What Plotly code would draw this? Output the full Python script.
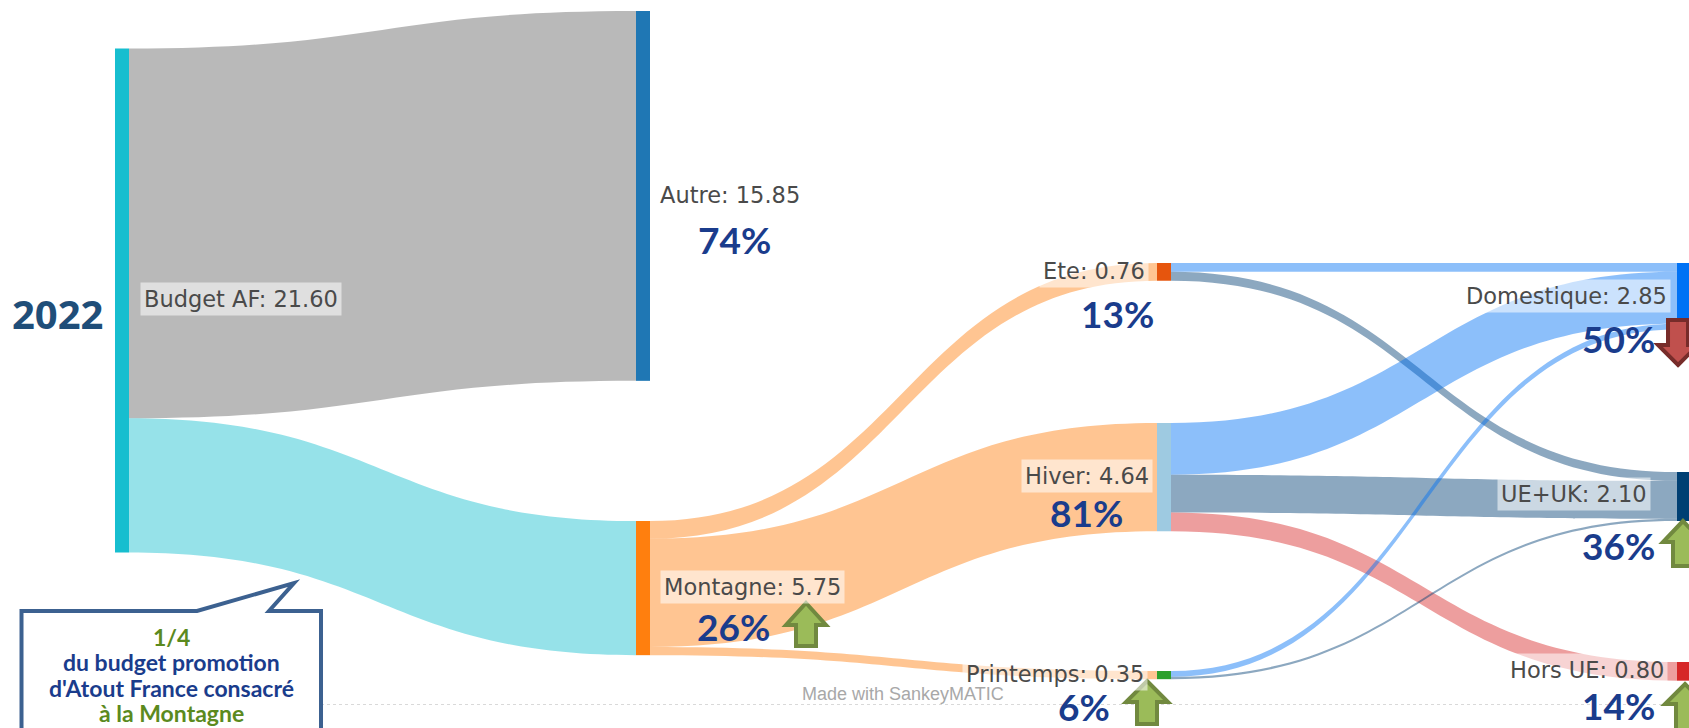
import plotly.graph_objects as go

# ---- data ----
node_names = ["Budget AF", "Autre", "Montagne", "Ete", "Hiver", "Printemps", "Domestique", "UE+UK", "Hors UE"]
node_values = [21.60, 15.85, 5.75, 0.76, 4.64, 0.35, 2.85, 2.10, 0.80]
node_colors = ["#17becf", "#1f77b4", "#ff7f0e", "#e6550d", "#9ecae1", "#2ca02c", "#0072f5", "#003f73", "#d62728"]
link_source = [0, 0, 2, 2, 2, 3, 3, 4, 4, 4, 5, 5]
link_target = [1, 2, 3, 4, 5, 6, 7, 6, 7, 8, 6, 7]
link_value = [15.85, 5.75, 0.76, 4.64, 0.35, 0.38, 0.38, 2.22, 1.62, 0.80, 0.25, 0.10]
link_colors = ["rgba(127,127,127,0.55)", "rgba(23,190,207,0.45)",
               "rgba(255,127,14,0.45)", "rgba(255,127,14,0.45)", "rgba(255,127,14,0.45)",
               "rgba(0,114,245,0.45)", "rgba(0,63,115,0.45)",
               "rgba(0,114,245,0.45)", "rgba(0,63,115,0.45)", "rgba(214,39,40,0.45)",
               "rgba(0,114,245,0.45)", "rgba(0,63,115,0.45)"]
node_left = [115, 636, 636, 1157, 1157, 1157, 1677, 1677, 1677]
node_top = [48.5, 11, 521, 263, 423, 671, 263, 472, 662]

node_labels = [("Budget AF: 21.60", 241, 299), ("Autre: 15.85", 730, 195), ("Montagne: 5.75", 752, 587),
               ("Ete: 0.76", 1094, 271), ("Hiver: 4.64", 1087, 476), ("Printemps: 0.35", 1055, 674),
               ("Domestique: 2.85", 1566, 296), ("UE+UK: 2.10", 1574, 494), ("Hors UE: 0.80", 1587, 670)]
percents = [("74%", 734, 240), ("13%", 1117, 313), ("81%", 1086, 512), ("26%", 733, 626), ("6%", 1084, 706),
            ("50%", 1618, 338), ("36%", 1618, 545), ("14%", 1618, 705)]
callout_lines = [("1/4", "#5b8a1e", 637), ("du budget promotion", "#1a3c8c", 662),
                 ("d'Atout France consacré", "#1a3c8c", 688), ("à la Montagne", "#5b8a1e", 713)]
# arrows: tip x, tip y, head half width, shaft half width, head base y, tail y
up_arrows = [(806, 603, 20, 10, 625, 646), (1147, 681, 21, 10, 702, 724),
             (1683, 521, 20, 10, 542, 566), (1685, 684, 20, 9, 704, 740)]
down_arrows = [(1678, 365, 20, 10, 345, 320)]

W, H = 1692, 728
thick = 14
px_per_unit = 504 / 21.6
pad = (H - 504) / 3


def fx(x):
    return x / W


def fy(y):
    return 1 - y / H


node_x = [(x + thick / 2) / W for x in node_left]
node_y = [(t + v * px_per_unit / 2) / H for t, v in zip(node_top, node_values)]

fig = go.Figure(go.Sankey(
    arrangement="fixed",
    domain=dict(x=[0, 1], y=[0, 1]),
    hoverinfo="none",
    node=dict(label=[""] * len(node_names), customdata=node_names, x=node_x, y=node_y, color=node_colors,
              thickness=thick, pad=pad, line=dict(width=0), hoverinfo="none"),
    link=dict(source=link_source, target=link_target, value=link_value, color=link_colors,
              line=dict(width=0), hoverinfo="none"),
))


def poly(points):
    return "M " + " L ".join(f"{fx(x):.5f},{fy(y):.5f}" for x, y in points) + " Z"


shapes = [dict(type="line", xref="paper", yref="paper", x0=fx(321), x1=fx(W), y0=fy(704.5), y1=fy(704.5),
               line=dict(color="#d9d9d9", width=1, dash="dot")),
          dict(type="path", xref="paper", yref="paper",
               path=poly([(21.5, 611), (197, 611), (294, 583), (269, 611), (321, 611), (321, 745), (21.5, 745)]),
               fillcolor="white", line=dict(color="#3c6190", width=4))]
for tx, ty, hw, sw, base, tail in up_arrows:
    shapes.append(dict(type="path", xref="paper", yref="paper",
                       path=poly([(tx, ty), (tx + hw, base), (tx + sw, base), (tx + sw, tail), (tx - sw, tail),
                                  (tx - sw, base), (tx - hw, base)]),
                       fillcolor="#9bbb59", line=dict(color="#71893f", width=4)))
for tx, ty, hw, sw, base, tail in down_arrows:
    shapes.append(dict(type="path", xref="paper", yref="paper",
                       path=poly([(tx, ty), (tx + hw, base), (tx + sw, base), (tx + sw, tail), (tx - sw, tail),
                                  (tx - sw, base), (tx - hw, base)]),
                       fillcolor="#c0504d", line=dict(color="#772c2a", width=4)))

ann = []
for text, x, y in node_labels:
    ann.append(dict(text=text, x=fx(x), y=fy(y), xref="paper", yref="paper", showarrow=False,
                    xanchor="center", yanchor="middle", bgcolor="rgba(255,255,255,0.55)", borderpad=3,
                    font=dict(family="DejaVu Sans", size=22.5, color="#4a4a4a")))
for text, x, y in percents:
    ann.append(dict(text=f"<b>{text}</b>", x=fx(x), y=fy(y), xref="paper", yref="paper", showarrow=False,
                    xanchor="center", yanchor="middle",
                    font=dict(family="Lato", size=37, color="#1a3c8c")))
for text, color, y in callout_lines:
    ann.append(dict(text=f"<b>{text}</b>", x=fx(171), y=fy(y), xref="paper", yref="paper", showarrow=False,
                    xanchor="center", yanchor="middle", font=dict(family="Lato", size=23, color=color)))
ann.append(dict(text="<b>2022</b>", x=fx(57), y=fy(313), xref="paper", yref="paper", showarrow=False,
                xanchor="center", yanchor="middle", font=dict(family="Open Sans", size=40, color="#1f4e79")))
ann.append(dict(text="Made with SankeyMATIC", x=fx(903), y=fy(694), xref="paper", yref="paper", showarrow=False,
                xanchor="center", yanchor="middle", font=dict(family="Liberation Sans", size=18, color="#a8a8a8")))

fig.update_layout(width=W, height=H, margin=dict(l=0, r=0, t=0, b=0), paper_bgcolor="white",
                  shapes=shapes, annotations=ann, showlegend=False)
fig.write_html("out.html", config={"displayModeBar": False},
               post_script="document.body.style.margin='0';document.documentElement.style.overflow='hidden';")
